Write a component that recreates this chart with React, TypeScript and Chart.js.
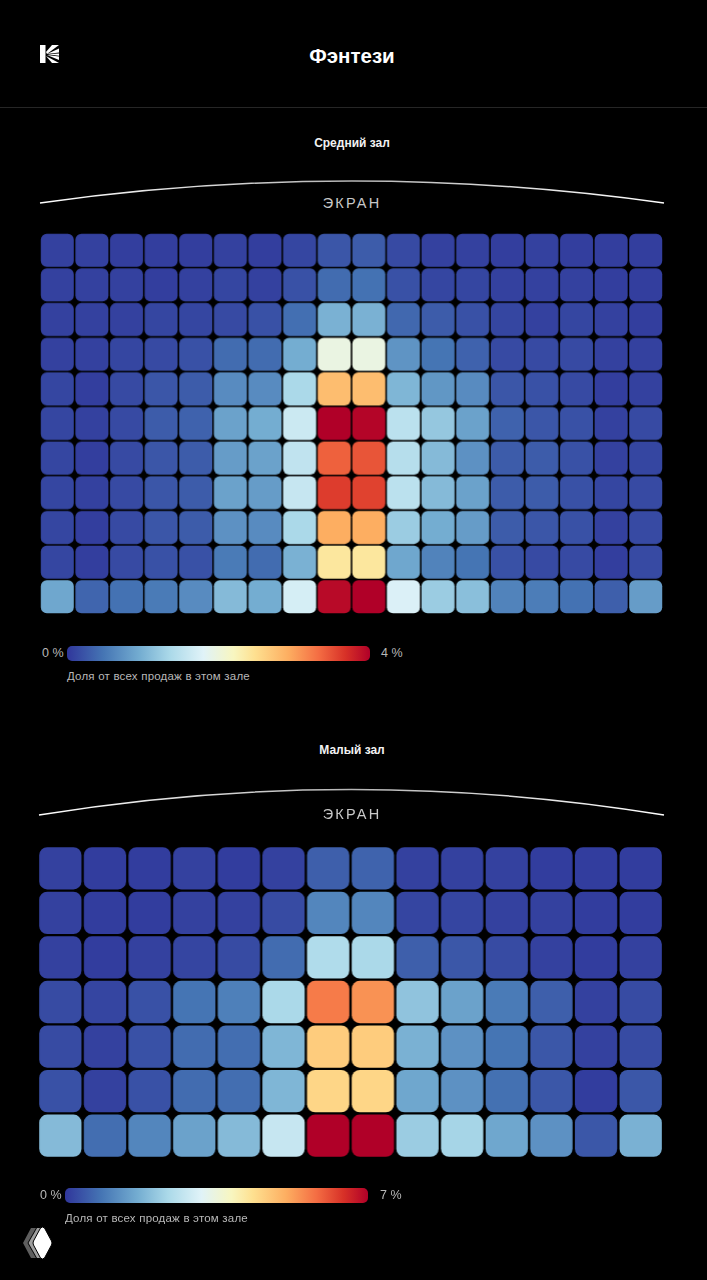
import { useEffect, useRef } from 'react';
import { Chart, registerables } from 'chart.js';

Chart.register(...registerables);

const FONT = '"Liberation Sans", Arial, sans-serif';

// доля места от всех продаж, %, ряды сверху вниз
const mediumHall = [
  [0.07, 0.07, 0.05, 0.05, 0.05, 0.07, 0.05, 0.1, 0.2, 0.24, 0.13, 0.07, 0.07, 0.05, 0.07, 0.05, 0.05, 0.05],
  [0.07, 0.07, 0.07, 0.05, 0.07, 0.1, 0.07, 0.17, 0.34, 0.38, 0.17, 0.1, 0.1, 0.07, 0.07, 0.07, 0.05, 0.05],
  [0.07, 0.07, 0.07, 0.1, 0.1, 0.13, 0.17, 0.36, 0.84, 0.84, 0.32, 0.24, 0.17, 0.1, 0.07, 0.1, 0.07, 0.05],
  [0.07, 0.07, 0.1, 0.13, 0.17, 0.34, 0.34, 0.8, 1.76, 1.76, 0.62, 0.4, 0.28, 0.13, 0.13, 0.13, 0.07, 0.07],
  [0.1, 0.05, 0.13, 0.2, 0.24, 0.56, 0.56, 1.2, 2.68, 2.68, 0.88, 0.64, 0.56, 0.2, 0.17, 0.13, 0.05, 0.07],
  [0.1, 0.07, 0.13, 0.24, 0.28, 0.72, 0.8, 1.44, 4, 3.96, 1.32, 1.04, 0.72, 0.28, 0.2, 0.17, 0.07, 0.13],
  [0.1, 0.05, 0.13, 0.2, 0.24, 0.68, 0.72, 1.36, 3.28, 3.36, 1.28, 0.92, 0.6, 0.24, 0.24, 0.17, 0.07, 0.1],
  [0.1, 0.07, 0.13, 0.2, 0.24, 0.72, 0.68, 1.4, 3.52, 3.48, 1.32, 0.92, 0.72, 0.24, 0.24, 0.17, 0.1, 0.13],
  [0.1, 0.05, 0.13, 0.2, 0.24, 0.6, 0.56, 1.2, 2.8, 2.8, 1.08, 0.8, 0.68, 0.24, 0.2, 0.17, 0.07, 0.13],
  [0.1, 0.05, 0.13, 0.17, 0.17, 0.44, 0.34, 0.84, 2.28, 2.28, 0.76, 0.5, 0.4, 0.17, 0.13, 0.13, 0.05, 0.13],
  [0.76, 0.3, 0.38, 0.44, 0.56, 0.92, 0.8, 1.52, 3.92, 4, 1.56, 1.08, 0.96, 0.5, 0.46, 0.38, 0.26, 0.68],
];

const smallHall = [
  [0.12, 0.08, 0.08, 0.12, 0.08, 0.12, 0.45, 0.5, 0.12, 0.12, 0.12, 0.08, 0.08, 0.08],
  [0.12, 0.08, 0.08, 0.12, 0.12, 0.23, 0.91, 0.91, 0.17, 0.17, 0.12, 0.12, 0.08, 0.08],
  [0.12, 0.08, 0.12, 0.17, 0.23, 0.6, 2.17, 2.1, 0.45, 0.37, 0.23, 0.12, 0.08, 0.12],
  [0.23, 0.17, 0.3, 0.7, 0.84, 2.1, 5.45, 5.2, 1.75, 1.26, 0.77, 0.45, 0.12, 0.23],
  [0.23, 0.12, 0.3, 0.6, 0.62, 1.54, 4.48, 4.48, 1.47, 1.05, 0.7, 0.37, 0.12, 0.23],
  [0.3, 0.12, 0.3, 0.6, 0.62, 1.54, 4.34, 4.34, 1.33, 1.05, 0.65, 0.37, 0.08, 0.37],
  [1.61, 0.62, 0.91, 1.26, 1.61, 2.45, 7, 7, 1.89, 2.03, 1.33, 1.05, 0.37, 1.47],
];

const scaleColors = [
  '#30369b', '#4575b4', '#74add1', '#abd9e9', '#e0f3f8', '#f8f6c0',
  '#fee090', '#fdae61', '#f46d43', '#d73027', '#b00028',
];
const barStops = [0, 12, 24, 34, 45, 55, 62, 73, 83, 92, 100];

function hexToRgb(hex: string) {
  return [1, 3, 5].map(i => parseInt(hex.slice(i, i + 2), 16));
}

function colorFor(value: number, max: number) {
  const pos = Math.min(value / max, 1) * (scaleColors.length - 1);
  const i = Math.min(Math.floor(pos), scaleColors.length - 2);
  const a = hexToRgb(scaleColors[i]);
  const b = hexToRgb(scaleColors[i + 1]);
  const f = pos - i;
  const c = a.map((v, k) => Math.round(v + (b[k] - v) * f));
  return `rgb(${c[0]}, ${c[1]}, ${c[2]})`;
}

interface SeatMapProps {
  rows: number[][];
  max: number;
  left: number;
  top: number;
  width: number;
  height: number;
  gap: number; // доля шага между креслами
  radius: number;
}

function SeatMap({ rows, max, left, top, width, height, gap, radius }: SeatMapProps) {
  const ref = useRef<HTMLCanvasElement>(null);

  useEffect(() => {
    if (!ref.current) return;
    const seats = rows[0].map((_, i) => String(i + 1));
    const chart = new Chart(ref.current, {
      type: 'bar',
      data: {
        labels: seats,
        datasets: rows.map((row, r) => ({
          label: `Ряд ${r + 1}`,
          data: row.map(() => [r + gap / 2, r + 1 - gap / 2]) as any,
          backgroundColor: row.map(v => colorFor(v, max)),
          borderWidth: 0,
          borderRadius: radius,
          borderSkipped: false,
          grouped: false,
          barPercentage: 1 - gap,
          categoryPercentage: 1,
        })),
      },
      options: {
        responsive: false,
        animation: false,
        layout: { padding: 0 },
        plugins: { legend: { display: false }, tooltip: { enabled: false } },
        scales: {
          x: { display: false },
          y: { display: false, min: 0, max: rows.length, reverse: true },
        },
      },
    });
    return () => chart.destroy();
  }, [rows, max, gap, radius]);

  return (
    <canvas
      ref={ref}
      width={width}
      height={height}
      style={{ position: 'absolute', left, top, width, height, display: 'block' }}
    />
  );
}

function Label({ x, y, size, color, bold, center, spacing, children }: any) {
  return (
    <div
      style={{
        position: 'absolute',
        left: center ? x - 150 : x,
        width: center ? 300 : undefined,
        top: y - size,
        height: size * 2,
        lineHeight: `${size * 2}px`,
        fontFamily: FONT,
        fontSize: size,
        fontWeight: bold ? 700 : 400,
        color,
        letterSpacing: spacing,
        textAlign: center ? 'center' : 'left',
        whiteSpace: 'nowrap',
      }}
    >
      {children}
    </div>
  );
}

function ScreenArc({ id, x1, x2, yEnd, yTop }: { id: string; x1: number; x2: number; yEnd: number; yTop: number }) {
  const cx = (x1 + x2) / 2;
  const cy = 2 * yTop - yEnd;
  return (
    <svg width={707} height={1280} style={{ position: 'absolute', left: 0, top: 0, pointerEvents: 'none' }}>
      <defs>
        <linearGradient id={id} x1="0" x2="1" y1="0" y2="0">
          <stop offset="0" stopColor="#ffffff" />
          <stop offset="0.5" stopColor="#b5b5b5" />
          <stop offset="1" stopColor="#ffffff" />
        </linearGradient>
      </defs>
      <path d={`M${x1} ${yEnd} Q${cx} ${cy} ${x2} ${yEnd}`} fill="none" stroke={`url(#${id})`} strokeWidth={1.5} />
    </svg>
  );
}

function ColorBar({ left, top, width, height }: any) {
  const stops = scaleColors.map((c, i) => `${c} ${barStops[i]}%`).join(', ');
  return (
    <div
      style={{
        position: 'absolute',
        left,
        top,
        width,
        height,
        borderRadius: 5,
        background: `linear-gradient(to right, ${stops})`,
      }}
    />
  );
}

function Logos() {
  return (
    <svg width={707} height={1280} style={{ position: 'absolute', left: 0, top: 0, pointerEvents: 'none' }}>
      <g fill="#ffffff">
        <rect x={40} y={45} width={5.5} height={18} />
        <polygon points="46,52 52,45 59,45 47,54" />
        <polygon points="47,54 59,48.5 59,52.5" />
        <polygon points="47.5,54.3 59,53.6 59,55.8" />
        <polygon points="47,55 59,56.5 59,60" />
        <polygon points="46,56 59,63 52,63" />
      </g>
      <path d="M31 1228 L23 1243 L31 1258 L40 1258 L40 1228 Z" fill="#5e5e5e" />
      <path d="M36 1228 L27.5 1243 L36 1258 L44 1258 L44 1228 Z" fill="#000000" />
      <path d="M37 1228 L28.5 1243 L37 1258 L44 1258 L44 1228 Z" fill="#a0a0a0" />
      <path
        d="M40.5 1228 Q42.5 1226 44.5 1228 L51.5 1241 Q52.5 1243 51.5 1245 L44.5 1258 Q42.5 1260 40.5 1258 L33.5 1245 Q32.5 1243 33.5 1241 Z"
        fill="#ffffff"
        stroke="#000000"
        strokeWidth={1}
      />
    </svg>
  );
}

export default function App() {
  useEffect(() => {
    document.body.style.margin = '0';
    document.body.style.background = '#000000';
  }, []);

  return (
    <div style={{ position: 'relative', width: 707, height: 1280, background: '#000000', overflow: 'hidden' }}>
      <Logos />
      <Label x={352} y={55} size={20.5} color="#ffffff" bold center>Фэнтези</Label>
      <div style={{ position: 'absolute', left: 0, top: 107, width: 707, height: 1, background: '#262626' }} />

      <Label x={352} y={143} size={12} color="#f2f2f2" bold center>Средний зал</Label>
      <ScreenArc id="arcMedium" x1={40} x2={664} yEnd={203} yTop={181} />
      <Label x={352} y={203} size={14.5} color="#c8c8c8" center spacing="2.2px">ЭКРАН</Label>
      <SeatMap rows={mediumHall} max={4} left={40.25} top={233} width={622.5} height={380.5} gap={0.045} radius={6} />
      <Label x={42} y={653} size={12.5} color="#b8b8b8">0 %</Label>
      <ColorBar left={67} top={646} width={303} height={15} />
      <Label x={381} y={653} size={12.5} color="#b8b8b8">4 %</Label>
      <Label x={67} y={676} size={11.5} color="#b8b8b8" spacing="0.2px">Доля от всех продаж в этом зале</Label>

      <Label x={352} y={750} size={12} color="#f2f2f2" bold center>Малый зал</Label>
      <ScreenArc id="arcSmall" x1={39} x2={664} yEnd={815} yTop={789.5} />
      <Label x={352} y={814} size={14.5} color="#c8c8c8" center spacing="2.2px">ЭКРАН</Label>
      <SeatMap rows={smallHall} max={7} left={38.2} top={845.5} width={624.6} height={312.3} gap={0.052} radius={8} />
      <Label x={40} y={1195} size={12.5} color="#b8b8b8">0 %</Label>
      <ColorBar left={65} top={1188} width={303} height={15} />
      <Label x={380} y={1195} size={12.5} color="#b8b8b8">7 %</Label>
      <Label x={65} y={1218} size={11.5} color="#b8b8b8" spacing="0.2px">Доля от всех продаж в этом зале</Label>
    </div>
  );
}
